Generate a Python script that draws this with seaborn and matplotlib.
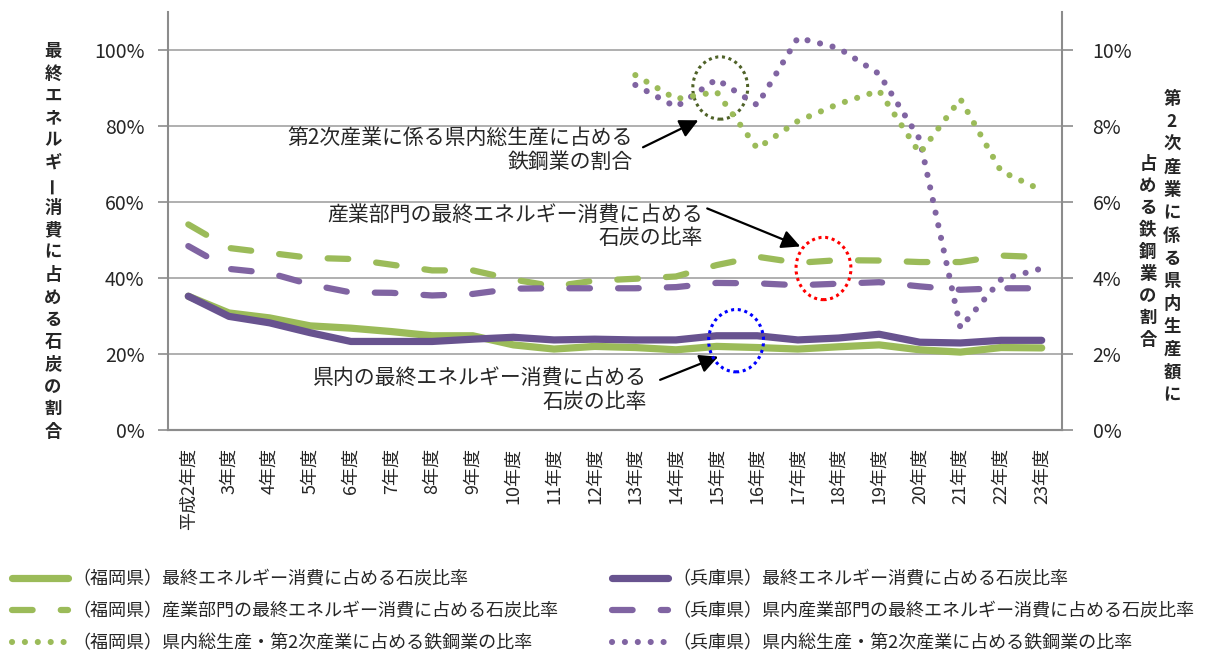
import matplotlib
matplotlib.use("Agg")
import matplotlib.pyplot as plt
from matplotlib.patches import Ellipse
from matplotlib.ticker import PercentFormatter
import seaborn as sns

sns.set_style("white")
plt.rcParams['font.family'] = ['Noto Sans CJK JP', 'DejaVu Sans']

# --- data ---
years = ["平成2年度", "3年度", "4年度", "5年度", "6年度", "7年度", "8年度", "9年度",
         "10年度", "11年度", "12年度", "13年度", "14年度", "15年度", "16年度", "17年度",
         "18年度", "19年度", "20年度", "21年度", "22年度", "23年度"]
steel_years = years[11:]

fukuoka_total = [0.352, 0.308, 0.295, 0.274, 0.268, 0.259, 0.248, 0.248, 0.224, 0.213, 0.220,
                 0.217, 0.211, 0.220, 0.217, 0.213, 0.219, 0.224, 0.211, 0.205, 0.217, 0.216]
hyogo_total = [0.352, 0.299, 0.282, 0.256, 0.233, 0.233, 0.233, 0.239, 0.244, 0.237, 0.239,
               0.237, 0.237, 0.248, 0.248, 0.237, 0.242, 0.252, 0.231, 0.229, 0.236, 0.236]
fukuoka_ind = [0.541, 0.479, 0.466, 0.453, 0.450, 0.435, 0.420, 0.420, 0.396, 0.378, 0.393,
               0.398, 0.404, 0.434, 0.456, 0.440, 0.447, 0.446, 0.442, 0.442, 0.459, 0.455]
hyogo_ind = [0.484, 0.424, 0.413, 0.383, 0.362, 0.361, 0.354, 0.358, 0.372, 0.373, 0.373,
             0.373, 0.376, 0.387, 0.386, 0.381, 0.385, 0.389, 0.378, 0.369, 0.373, 0.373]
# right axis, 13年度-23年度
fukuoka_steel = [0.0934, 0.0871, 0.0890, 0.0741, 0.0813, 0.0858, 0.0893, 0.0728, 0.0871, 0.0681, 0.0631]
hyogo_steel = [0.0908, 0.0850, 0.0923, 0.0855, 0.1032, 0.1005, 0.0937, 0.0765, 0.0269, 0.0396, 0.0425]

labels = ["（福岡県）最終エネルギー消費に占める石炭比率",
          "（福岡県）産業部門の最終エネルギー消費に占める石炭比率",
          "（福岡県）県内総生産・第2次産業に占める鉄鋼業の比率",
          "（兵庫県）最終エネルギー消費に占める石炭比率",
          "（兵庫県）県内産業部門の最終エネルギー消費に占める石炭比率",
          "（兵庫県）県内総生産・第2次産業に占める鉄鋼業の比率"]

GREEN = "#9BBB59"
PURPLE_DARK = "#68538F"
PURPLE = "#8064A2"
GRAY = "#8c8c8c"

W, H = 1211, 654
fig = plt.figure(figsize=(W / 100, H / 100), dpi=100)
ax = fig.add_axes([168 / W, 1 - 430 / H, 894 / W, 418 / H])
ax2 = ax.twinx()

x_all = list(range(len(years)))
x_steel = [years.index(y) for y in steel_years]

dash_style = dict(lw=4.5, linestyle=(0, (3.3, 4.5)), dash_capstyle="round")
dot_style = dict(lw=4.4, linestyle=(0, (0.01, 2.1)), dash_capstyle="round")
solid_style = dict(lw=5.2, solid_capstyle="round", solid_joinstyle="round")

sns.lineplot(x=x_all, y=fukuoka_ind, ax=ax, color=GREEN, **dash_style)
h_f_ind = ax.get_lines()[-1]
sns.lineplot(x=x_all, y=hyogo_ind, ax=ax, color=PURPLE, **dash_style)
h_h_ind = ax.get_lines()[-1]
sns.lineplot(x=x_all, y=fukuoka_total, ax=ax, color=GREEN, **solid_style)
h_f_tot = ax.get_lines()[-1]
sns.lineplot(x=x_all, y=hyogo_total, ax=ax, color=PURPLE_DARK, **solid_style)
h_h_tot = ax.get_lines()[-1]

sns.lineplot(x=x_steel, y=hyogo_steel, ax=ax2, color=PURPLE, **dot_style)
h_h_st = ax2.get_lines()[-1]
sns.lineplot(x=x_steel, y=fukuoka_steel, ax=ax2, color=GREEN, **dot_style)
h_f_st = ax2.get_lines()[-1]

# axes
ax.set_xlim(-0.5, len(years) - 0.5)
ax.set_ylim(0, 1.10)
ax2.set_ylim(0, 0.11)
ax.set_yticks([0, 0.2, 0.4, 0.6, 0.8, 1.0])
ax2.set_yticks([0, 0.02, 0.04, 0.06, 0.08, 0.10])
ax.yaxis.set_major_formatter(PercentFormatter(1.0, decimals=0))
ax2.yaxis.set_major_formatter(PercentFormatter(1.0, decimals=0))
ax.set_xticks(x_all)
ax.set_xticklabels(years, rotation=90, fontsize=13)
ax.set_xticks([i - 0.5 for i in range(len(years) + 1)], minor=True)
ax.tick_params(axis="x", which="major", length=0, pad=13)
ax.tick_params(axis="x", which="minor", length=6, width=1.2, color=GRAY, direction="out")
ax.tick_params(axis="y", length=7, width=1.2, color=GRAY, labelsize=14, pad=10, direction="out")
ax2.tick_params(axis="y", length=8, width=1.2, color=GRAY, labelsize=14, pad=14, direction="out")
for a in (ax, ax2):
    a.set_xlabel("")
    a.set_ylabel("")
    a.spines["top"].set_visible(False)
    for s in ("left", "right", "bottom"):
        a.spines[s].set_color(GRAY)
        a.spines[s].set_linewidth(1.5)
ax.spines["right"].set_visible(False)
ax2.spines["left"].set_visible(False)
ax.yaxis.grid(True, color="#9a9a9a", lw=1.1)
ax.xaxis.grid(False)
ax.set_axisbelow(True)

# vertical axis titles, one character per line
def vertical_text(text, x_px, y0_px, step_px):
    for k, ch in enumerate(text):
        fig.text(x_px / W, 1 - (y0_px + k * step_px) / H, ch, ha="center", va="center",
                 fontsize=12.5, fontweight="bold", rotation=90 if ch == "ー" else 0)

vertical_text("最終エネルギー消費に占める石炭の割合", 53, 51, 22.4)
vertical_text("第2次産業に係る県内生産額に", 1172, 99, 22.8)
vertical_text("占める鉄鋼業の割合", 1148, 164, 22.0)

# annotations
ann_font = 15
ax.text(10.95, 0.736, "第2次産業に係る県内総生産に占める\n鉄鋼業の割合", ha="right", va="center",
        multialignment="right", fontsize=ann_font, linespacing=1.1)
ax.text(12.67, 0.536, "産業部門の最終エネルギー消費に占める\n石炭の比率", ha="right", va="center",
        multialignment="right", fontsize=ann_font, linespacing=1.1)
ax.text(11.29, 0.106, "県内の最終エネルギー消費に占める\n石炭の比率", ha="right", va="center",
        multialignment="right", fontsize=ann_font, linespacing=1.1)
arrow = dict(arrowstyle="-|>", color="black", lw=1.6, mutation_scale=28, shrinkA=0, shrinkB=0)
ax.annotate("", xy=(12.55, 0.815), xytext=(11.19, 0.744), arrowprops=arrow)
ax.annotate("", xy=(15.06, 0.483), xytext=(12.77, 0.583), arrowprops=arrow)
ax.annotate("", xy=(13.04, 0.193), xytext=(11.61, 0.132), arrowprops=arrow)

for (cx, cy), col in [((13.09, 0.90), "#4F6228"), ((15.63, 0.425), "red"), ((13.48, 0.235), "blue")]:
    ax2.add_patch(Ellipse((cx, cy * 0.1), 1.35, 0.0164, fill=False, edgecolor=col,
                          lw=2.2, linestyle=(0, (1, 1.2))))

# legends (two columns)
leg_kw = dict(frameon=False, fontsize=13, handlelength=3.1, handletextpad=0.25,
              labelspacing=0.78, borderpad=0, borderaxespad=0, loc="upper left")
fig.legend([h_f_tot, h_f_ind, h_f_st], labels[:3], bbox_to_anchor=(12 / W, 1 - 570 / H), **leg_kw)
fig.legend([h_h_tot, h_h_ind, h_h_st], labels[3:], bbox_to_anchor=(612 / W, 1 - 570 / H), **leg_kw)

fig.savefig("out.png", dpi=100)
